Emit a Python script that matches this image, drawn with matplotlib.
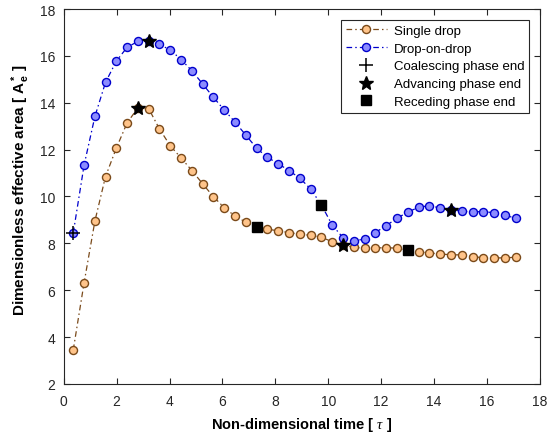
import matplotlib
matplotlib.use("Agg")
import matplotlib.pyplot as plt
from matplotlib.lines import Line2D

plt.rcParams['font.family'] = ['Liberation Sans', 'DejaVu Sans']
plt.rcParams['mathtext.fontset'] = 'custom'
plt.rcParams['mathtext.rm'] = 'Liberation Sans'
plt.rcParams['mathtext.it'] = 'Liberation Serif:italic'
plt.rcParams['mathtext.bf'] = 'Liberation Sans:bold'

# time values (tau)
tau = [0.36, 0.77, 1.18, 1.58, 1.99, 2.40, 2.81, 3.22, 3.62, 4.03,
       4.44, 4.85, 5.26, 5.66, 6.07, 6.48, 6.89, 7.30, 7.70, 8.11,
       8.52, 8.93, 9.34, 9.74, 10.15, 10.56, 10.97, 11.38, 11.78, 12.19,
       12.60, 13.01, 13.42, 13.82, 14.23, 14.64, 15.05, 15.46, 15.86, 16.27,
       16.68, 17.09]

single = [3.45, 6.32, 8.96, 10.85, 12.07, 13.15, 13.79, 13.73, 12.88, 12.16,
          11.64, 11.10, 10.53, 9.99, 9.52, 9.16, 8.90, 8.71, 8.61, 8.53,
          8.46, 8.39, 8.34, 8.26, 8.07, 7.93, 7.83, 7.79, 7.80, 7.82,
          7.79, 7.71, 7.65, 7.59, 7.55, 7.51, 7.51, 7.43, 7.39, 7.38,
          7.38, 7.41]

dod = [8.44, 11.34, 13.42, 14.87, 15.78, 16.37, 16.62, 16.63, 16.49, 16.25,
       15.84, 15.36, 14.79, 14.23, 13.69, 13.17, 12.61, 12.05, 11.67, 11.40,
       11.10, 10.78, 10.31, 9.64, 8.78, 8.24, 8.09, 8.20, 8.46, 8.76,
       9.07, 9.34, 9.54, 9.61, 9.51, 9.44, 9.37, 9.35, 9.35, 9.31,
       9.20, 9.07]

# indices of phase ends
single_adv = [6, 25]
single_rec = [17, 31]
dod_coal = [0]
dod_adv = [7, 35]
dod_rec = [23]

fig = plt.figure(figsize=(5.47, 4.35), dpi=100)
ax = fig.add_axes([0.1165, 0.115, 0.8705, 0.862])

orange_line = '#7a4a1a'
orange_face = '#ffc48a'
blue_line = '#0000cc'
blue_face = '#8c8cff'
dash = (0, (4.5, 2.5, 1.2, 2.5))
msz = 5.8

ax.plot(tau, single, linestyle=dash, color=orange_line, lw=0.9,
        marker='o', markersize=msz, markerfacecolor=orange_face,
        markeredgecolor=orange_line, markeredgewidth=1.0, label='Single drop')
ax.plot(tau, dod, linestyle=dash, color=blue_line, lw=0.9,
        marker='o', markersize=msz, markerfacecolor=blue_face,
        markeredgecolor=blue_line, markeredgewidth=1.0, label='Drop-on-drop')

ax.plot([tau[i] for i in dod_coal], [dod[i] for i in dod_coal], 'k+',
        markersize=10, markeredgewidth=1.1, linestyle='none')
ax.plot([tau[i] for i in single_adv] + [tau[i] for i in dod_adv],
        [single[i] for i in single_adv] + [dod[i] for i in dod_adv],
        'k*', markersize=10, linestyle='none')
ax.plot([tau[i] for i in single_rec] + [tau[i] for i in dod_rec],
        [single[i] for i in single_rec] + [dod[i] for i in dod_rec],
        'ks', markersize=7, linestyle='none')

ax.set_xlim(0, 18)
ax.set_ylim(2, 18)
ax.set_xticks(range(0, 19, 2))
ax.set_yticks(range(2, 19, 2))
ax.tick_params(direction='in', top=True, right=True, labelsize=10,
               color='#262626', labelcolor='#262626', length=4)
ax.tick_params(axis='x', pad=7)
ax.tick_params(axis='y', pad=6)
for s in ax.spines.values():
    s.set_color('#262626')
    s.set_linewidth(0.8)

ax.set_xlabel(r'Non-dimensional time [ $\mathit{\tau}$ ]', fontsize=10.5,
              fontweight='bold', labelpad=5)
ax.set_ylabel(r'Dimensionless effective area [ $\mathbf{A_e^*}$ ]', fontsize=11,
              fontweight='bold')
ax.yaxis.set_label_coords(-0.066, 0.52)

handles = [
    Line2D([], [], linestyle=dash, color=orange_line, lw=0.9, marker='o',
           markersize=msz, markerfacecolor=orange_face, markeredgecolor=orange_line),
    Line2D([], [], linestyle=dash, color=blue_line, lw=0.9, marker='o',
           markersize=msz, markerfacecolor=blue_face, markeredgecolor=blue_line),
    Line2D([], [], linestyle='none', color='k', marker='+', markersize=10,
           markeredgewidth=1.1),
    Line2D([], [], linestyle='none', color='k', marker='*', markersize=10),
    Line2D([], [], linestyle='none', color='k', marker='s', markersize=7),
]
labels = ['Single drop', 'Drop-on-drop', 'Coalescing phase end',
          'Advancing phase end', 'Receding phase end']
leg = ax.legend(handles, labels, loc='upper right', fontsize=9.5,
                fancybox=False, edgecolor='#262626', framealpha=1,
                borderpad=0.35, labelspacing=0.42, handlelength=3.1,
                handletextpad=0.55, borderaxespad=0,
                bbox_to_anchor=(529 / 547, 1 - 21 / 435),
                bbox_transform=fig.transFigure)
leg.get_frame().set_linewidth(0.8)

fig.savefig('out.png', dpi=100)
